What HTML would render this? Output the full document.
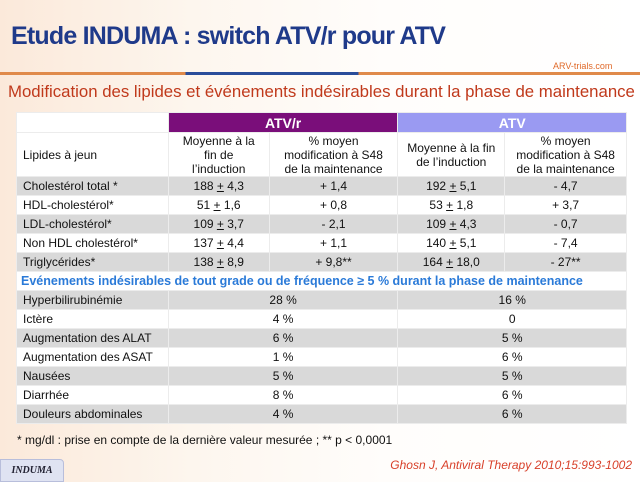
<!DOCTYPE html>
<html><head><meta charset="utf-8"><style>
body{margin:0;width:640px;height:480px;overflow:hidden;position:relative;font-family:"Liberation Sans",sans-serif;background:linear-gradient(90deg,#fbe9da 0%,#fdf6ee 30%,#fffdfb 60%,#fff 100%);}
.t{position:absolute;left:11px;top:22px;font-size:25px;color:#1f3a8a;font-weight:bold;letter-spacing:-0.8px;}
.line{position:absolute;left:0;top:72px;width:640px;height:3px;background:linear-gradient(90deg,#e08a4a 0%,#e08a4a 29%,#2a4d9a 29%,#2a4d9a 56%,#e08a4a 56%,#e08a4a 100%);}
.logo{position:absolute;left:553px;top:61px;font-size:9px;color:#e06a2a;}
.sub{position:absolute;left:8px;top:82px;font-size:16.8px;color:#c0391b;}
table{position:absolute;left:16px;top:112px;border-collapse:collapse;width:611px;font-size:12px;color:#111;}
td{border:1px solid #ececec;padding:0;height:18px;text-align:center;}
td.l{text-align:left;padding-left:6px;}
tr.g td{background:#d9d9d9;}
tr.w td{background:#fff;}
.p{background:#7a0e7a!important;color:#fff;font-weight:bold;font-size:14px;}
.b{background:#9a9af2!important;color:#fff;font-weight:bold;font-size:14px;}
.ev td{background:#fff;color:#2a7ad8;font-weight:bold;font-size:12.5px;text-align:left;padding-left:4px;}
.fn{position:absolute;left:17px;top:433px;font-size:12px;color:#111;}
.ind{position:absolute;left:0;top:459px;width:62px;height:21px;background:#dfe3f2;border:1px solid #b8bedb;border-radius:0 4px 0 0;font-family:"Liberation Serif",serif;font-style:italic;font-weight:bold;font-size:10px;color:#223;text-align:center;line-height:21px;}
.cit{position:absolute;right:8px;top:458px;font-size:12px;font-style:italic;color:#d8402a;}
</style></head><body>
<div class="t">Etude INDUMA : switch ATV/r pour ATV</div>
<div class="line"></div>
<div class="logo">ARV-trials.com</div>
<div class="sub">Modification des lipides et événements indésirables durant la phase de maintenance</div>
<table>
<colgroup><col style="width:152px"><col style="width:101px"><col style="width:129px"><col style="width:107px"><col style="width:122px"></colgroup>
<tr class="w" style="height:20px"><td></td><td colspan="2" class="p">ATV/r</td><td colspan="2" class="b">ATV</td></tr>
<tr class="w" style="height:44px"><td class="l">Lipides à jeun</td><td>Moyenne à la<br>fin de<br>l’induction</td><td>% moyen<br>modification à S48<br>de la maintenance</td><td>Moyenne à la fin<br>de l’induction</td><td>% moyen<br>modification à S48<br>de la maintenance</td></tr>
<tr class="g"><td class="l">Cholestérol total *</td><td>188 <u>+</u> 4,3</td><td>+ 1,4</td><td>192 <u>+</u> 5,1</td><td>- 4,7</td></tr>
<tr class="w"><td class="l">HDL-cholestérol*</td><td>51 <u>+</u> 1,6</td><td>+ 0,8</td><td>53 <u>+</u> 1,8</td><td>+ 3,7</td></tr>
<tr class="g"><td class="l">LDL-cholestérol*</td><td>109 <u>+</u> 3,7</td><td>- 2,1</td><td>109 <u>+</u> 4,3</td><td>- 0,7</td></tr>
<tr class="w"><td class="l">Non HDL cholestérol*</td><td>137 <u>+</u> 4,4</td><td>+ 1,1</td><td>140 <u>+</u> 5,1</td><td>- 7,4</td></tr>
<tr class="g"><td class="l">Triglycérides*</td><td>138 <u>+</u> 8,9</td><td>+ 9,8**</td><td>164 <u>+</u> 18,0</td><td>- 27**</td></tr>
<tr class="ev"><td colspan="5">Evénements indésirables de tout grade ou de fréquence ≥ 5 % durant la phase de maintenance</td></tr>
<tr class="g"><td class="l">Hyperbilirubinémie</td><td colspan="2">28 %</td><td colspan="2">16 %</td></tr>
<tr class="w"><td class="l">Ictère</td><td colspan="2">4 %</td><td colspan="2">0</td></tr>
<tr class="g"><td class="l">Augmentation des ALAT</td><td colspan="2">6 %</td><td colspan="2">5 %</td></tr>
<tr class="w"><td class="l">Augmentation des ASAT</td><td colspan="2">1 %</td><td colspan="2">6 %</td></tr>
<tr class="g"><td class="l">Nausées</td><td colspan="2">5 %</td><td colspan="2">5 %</td></tr>
<tr class="w"><td class="l">Diarrhée</td><td colspan="2">8 %</td><td colspan="2">6 %</td></tr>
<tr class="g"><td class="l">Douleurs abdominales</td><td colspan="2">4 %</td><td colspan="2">6 %</td></tr>
</table>
<div class="fn">* mg/dl : prise en compte de la dernière valeur mesurée ; ** p &lt; 0,0001</div>
<div class="ind">INDUMA</div>
<div class="cit">Ghosn J, Antiviral Therapy 2010;15:993-1002</div>
</body></html>
